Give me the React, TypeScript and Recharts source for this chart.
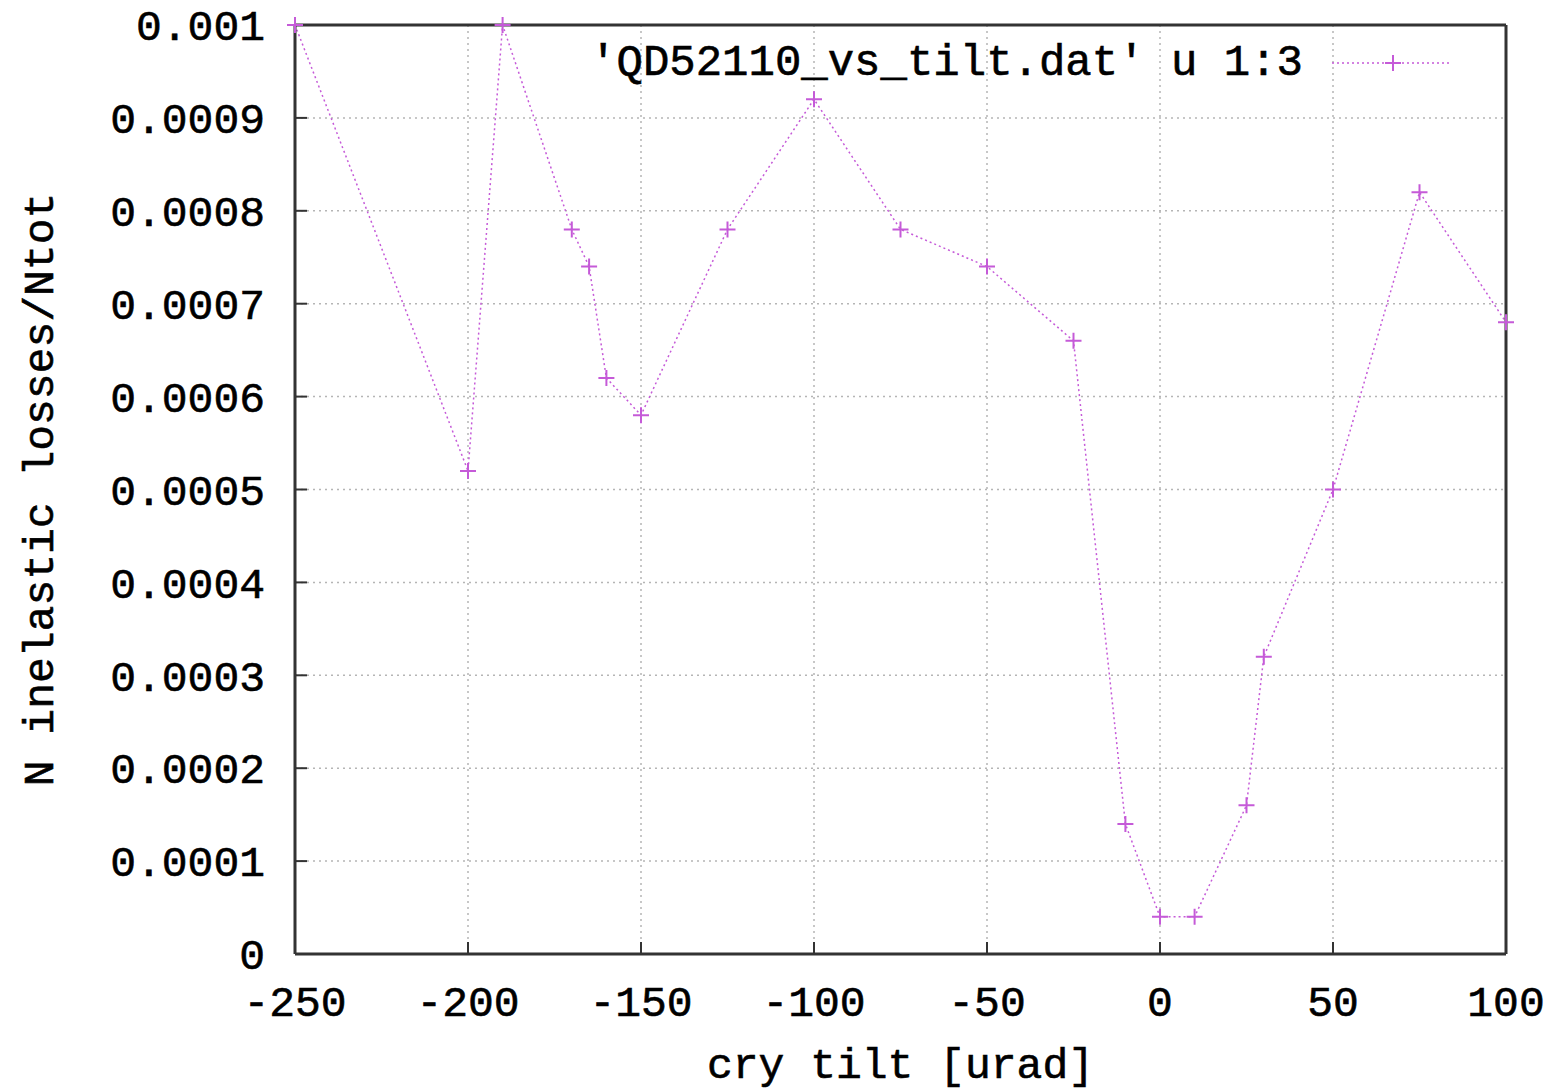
import React from 'react';
import { LineChart, Line, XAxis, YAxis, CartesianGrid } from 'recharts';

const tiltValues = [-250, -200, -190, -170, -165, -160, -150, -125, -100, -75, -50, -25, -10, 0, 10, 25, 30, 50, 75, 100];
const lossValues = [0.001, 0.00052, 0.001, 0.00078, 0.00074, 0.00062, 0.00058, 0.00078, 0.00092, 0.00078, 0.00074, 0.00066, 0.00014, 0.00004, 0.00004, 0.00016, 0.00032, 0.0005, 0.00082, 0.00068];
const xTicks = [-250, -200, -150, -100, -50, 0, 50, 100];
const yTicks = [0, 0.0001, 0.0002, 0.0003, 0.0004, 0.0005, 0.0006, 0.0007, 0.0008, 0.0009, 0.001];
const seriesName = "'QD52110_vs_tilt.dat' u 1:3";

const data = tiltValues.map((t, i) => ({ tilt: t, loss: lossValues[i] }));

const FONT = '"Liberation Mono", "DejaVu Sans Mono", monospace';
const LINE_COLOR = '#c55ad8';
const AXIS_COLOR = '#333333';

const fmtY = (v: number) => {
  if (v === 0) return '0';
  return v.toFixed(4).replace(/0+$/, '');
};

const PlusDot = (props: any) => {
  const { cx, cy } = props;
  if (cx == null || cy == null) return null;
  const s = 8;
  return (
    <path
      d={`M${cx - s},${cy}H${cx + s}M${cx},${cy - s}V${cy + s}`}
      stroke={LINE_COLOR}
      strokeWidth={2}
      fill="none"
    />
  );
};

const LegendBox = () => (
  <div style={{ position: 'absolute', left: 500, top: 40, width: 955, height: 46, display: 'flex', alignItems: 'center', justifyContent: 'flex-end', fontFamily: FONT, fontSize: 44, color: '#000', lineHeight: '46px', pointerEvents: 'none' }}>
    <span style={{ whiteSpace: 'pre', WebkitTextStroke: '0.6px #000' }}>{seriesName}</span>
    <svg width={152} height={40}>
      <line x1={29} y1={20} x2={149} y2={20} stroke={LINE_COLOR} strokeWidth={1.5} strokeDasharray="2 3" />
      <path d="M82,20H98M90,12V28" stroke={LINE_COLOR} strokeWidth={2} />
    </svg>
  </div>
);

export default function App() {
  const tickStyle = { fontFamily: FONT, fontSize: 43, fill: '#000', stroke: '#000', strokeWidth: 0.6 };
  const labelStyle = { fontFamily: FONT, fontSize: 43, fill: '#000', stroke: '#000', strokeWidth: 0.6 };
  return (
    <div style={{ position: 'absolute', left: 0, top: 0, width: 1561, height: 1090, background: '#fff' }}>
      <LineChart width={1561} height={1090} data={data} margin={{ top: 24, right: 54, left: 0, bottom: 0 }}>
        <CartesianGrid stroke="#b5b5b5" strokeDasharray="2 4" strokeWidth={1.5} />
        <XAxis
          dataKey="tilt"
          type="number"
          domain={[-250, 100]}
          ticks={xTicks}
          interval={0}
          height={136}
          tick={tickStyle}
          tickSize={-12}
          tickMargin={43}
          tickLine={{ stroke: AXIS_COLOR, strokeWidth: 2 }}
          axisLine={{ stroke: AXIS_COLOR, strokeWidth: 3 }}
          label={{ value: 'cry tilt [urad]', position: 'insideBottom', offset: 12, style: labelStyle }}
        />
        <XAxis
          xAxisId="top"
          orientation="top"
          type="number"
          dataKey="tilt"
          domain={[-250, 100]}
          ticks={xTicks}
          interval={0}
          height={1}
          tick={false}
          tickSize={-12}
          tickLine={{ stroke: AXIS_COLOR, strokeWidth: 2 }}
          axisLine={{ stroke: AXIS_COLOR, strokeWidth: 3 }}
        />
        <YAxis
          type="number"
          domain={[0, 0.001]}
          ticks={yTicks}
          interval={0}
          width={295}
          tick={tickStyle}
          tickFormatter={fmtY}
          tickSize={-12}
          tickMargin={42}
          tickLine={{ stroke: AXIS_COLOR, strokeWidth: 2 }}
          axisLine={{ stroke: AXIS_COLOR, strokeWidth: 3 }}
          label={{ value: 'N inelastic losses/Ntot', angle: -90, position: 'insideLeft', offset: 38, style: { ...labelStyle, textAnchor: 'middle' } }}
        />
        <YAxis
          yAxisId="right"
          orientation="right"
          type="number"
          domain={[0, 0.001]}
          ticks={yTicks}
          interval={0}
          width={1}
          tick={false}
          tickSize={-12}
          tickLine={{ stroke: AXIS_COLOR, strokeWidth: 2 }}
          axisLine={{ stroke: AXIS_COLOR, strokeWidth: 3 }}
        />
        <Line
          type="linear"
          dataKey="loss"
          name={seriesName}
          stroke={LINE_COLOR}
          strokeWidth={1.5}
          strokeDasharray="2 3"
          dot={<PlusDot />}
          activeDot={false}
          isAnimationActive={false}
        />
      </LineChart>
      <LegendBox />
    </div>
  );
}
